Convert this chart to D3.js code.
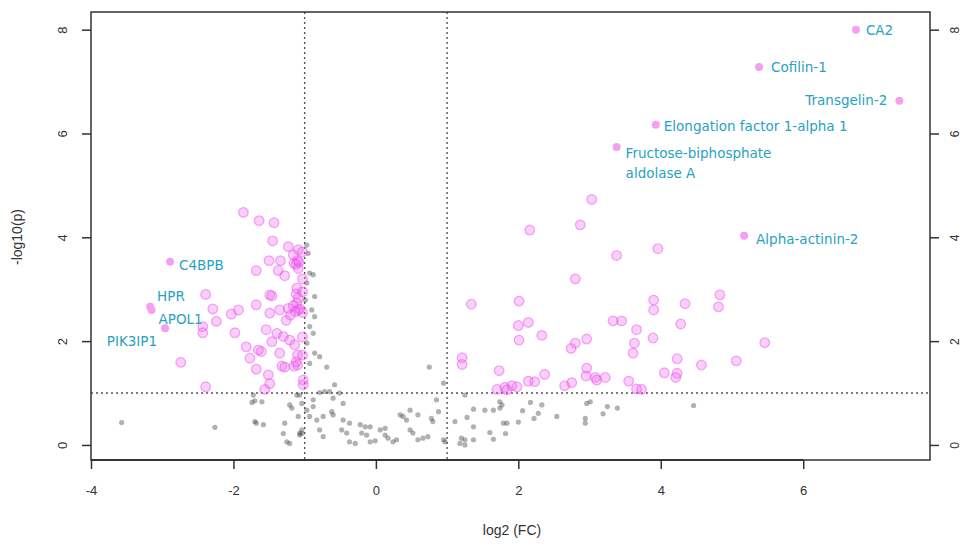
<!DOCTYPE html>
<html><head><meta charset="utf-8">
<script src="https://cdn.jsdelivr.net/npm/d3@7"></script>
<style>
body{margin:0;background:#fff;}
svg text{font-family:"Liberation Sans",Arial,sans-serif;}
svg text.lbl{font-family:"DejaVu Sans",Verdana,sans-serif;}
</style></head>
<body><svg id="c" width="964" height="546"></svg>
<script>
// ---- data ----
const xTicks = [-4, -2, 0, 2, 4, 6];
const yTicks = [0, 2, 4, 6, 8];
const fcCut = [-1, 1];
const pCut = 1;

const labelNames = ["CA2", "Cofilin-1", "Transgelin-2", "Elongation factor 1-alpha 1",
  "Fructose-biphosphate|aldolase A", "Alpha-actinin-2", "C4BPB", "HPR", "APOL1", "PIK3IP1"];
const labelX = [6.74, 5.38, 7.35, 3.93, 3.38, 5.17, -2.89, -3.17, -3.15, -2.96];
const labelY = [8.00, 7.28, 6.63, 6.17, 5.74, 4.03, 3.53, 2.66, 2.60, 2.25];

const upPoints = [[3.03,4.73],[2.16,4.14],[2.87,4.24],[3.96,3.78],[3.38,3.65],[2.80,3.20],[1.34,2.71],[2.01,2.77],
 [3.90,2.79],[3.90,2.60],[4.34,2.72],[4.81,2.66],[4.83,2.89],[2.00,2.30],[2.14,2.36],[2.01,2.02],[2.33,2.11],
 [3.33,2.39],[3.45,2.39],[3.66,2.22],[4.28,2.33],[2.96,2.04],[2.74,1.86],[2.80,1.96],[3.63,1.96],[3.61,1.77],
 [3.89,2.06],[1.21,1.68],[1.21,1.55],[4.23,1.66],[4.57,1.54],[1.73,1.43],[2.37,1.36],[2.96,1.48],[2.95,1.33],
 [3.08,1.30],[3.10,1.25],[3.22,1.30],[4.05,1.39],[4.23,1.38],[4.21,1.30],[2.14,1.23],[2.23,1.22],[2.65,1.14],
 [2.75,1.20],[3.55,1.23],[3.66,1.08],[3.73,1.07],[1.70,1.07],[1.81,1.11],[1.91,1.14],[1.98,1.12],[1.84,1.06],
 [5.46,1.97],[5.06,1.62]];

const downPoints = [[-1.86,4.48],[-1.64,4.32],[-1.43,4.28],[-1.45,3.93],[-1.23,3.82],[-1.09,3.76],[-1.16,3.66],
 [-1.50,3.55],[-1.34,3.55],[-1.15,3.50],[-1.09,3.40],[-1.68,3.36],[-1.37,3.36],[-1.28,3.26],[-1.11,3.02],
 [-2.39,2.90],[-1.49,2.89],[-1.46,2.87],[-2.29,2.62],[-2.03,2.52],[-1.93,2.60],[-1.68,2.70],[-1.49,2.54],
 [-1.35,2.60],[-1.23,2.63],[-1.16,2.68],[-1.09,2.60],[-1.11,2.73],[-2.24,2.38],[-2.43,2.28],[-2.43,2.16],
 [-1.98,2.16],[-1.54,2.22],[-1.39,2.15],[-1.30,2.09],[-1.21,2.02],[-1.46,1.99],[-1.82,1.89],[-1.61,1.80],
 [-1.65,1.83],[-1.35,1.77],[-1.14,1.93],[-1.77,1.67],[-1.32,1.52],[-1.28,1.50],[-1.10,1.73],[-1.68,1.46],
 [-1.51,1.35],[-1.49,1.18],[-1.56,1.07],[-2.39,1.12],[-1.10,1.54],[-1.12,2.91],[-1.09,2.83],[-2.74,1.59],
 [-1.02,1.25],[-1.02,1.16],[-1.03,3.72],[-1.03,3.20],[-1.03,2.95],[-1.03,2.55],[-1.03,2.08],[-1.03,1.73],
 [-1.10,3.55],[-1.20,2.50],[-1.26,2.40],[-1.08,3.52],[-1.12,3.48],[-1.07,2.62],[-1.13,2.57],[-1.12,1.60],
 [-1.15,1.52]];

const nsPoints = [[-0.97,3.85],[-0.95,3.69],[-0.93,3.31],[-0.88,3.28],[-0.97,3.12],[-0.86,2.86],[-0.99,2.79],
 [-0.90,2.60],[-0.86,2.47],[-0.93,2.28],[-0.88,2.15],[-0.97,1.96],[-0.86,1.77],[-0.79,1.70],[-0.93,1.57],
 [-0.69,1.50],[0.75,1.50],[-0.58,1.16],[-0.79,1.01],[-0.72,1.03],[-0.65,1.03],[-0.51,1.00],[-0.88,0.87],
 [-0.60,0.90],[-0.46,0.80],[-0.62,0.64],[-0.60,0.58],[-0.83,0.48],[-0.74,0.55],[-0.46,0.48],[-0.37,0.42],
 [-0.22,0.39],[-0.15,0.35],[-0.08,0.35],[-0.48,0.29],[-0.41,0.23],[-0.20,0.23],[-0.13,0.19],[-0.37,0.06],
 [-0.29,0.03],[-0.08,0.06],[-0.01,0.08],[0.13,0.19],[0.17,0.13],[0.24,0.06],[0.29,0.10],[0.34,0.58],
 [0.38,0.55],[0.43,0.48],[0.48,0.67],[0.59,0.58],[0.59,0.10],[0.66,0.13],[0.73,0.16],[0.78,0.51],[0.80,0.45],
 [0.85,0.87],[0.88,0.64],[0.95,0.10],[0.97,0.06],[0.95,1.19],[-0.79,0.29],[-0.74,0.16],[0.06,0.29],[0.13,0.32],
 [0.48,0.29],[0.52,0.23],
 [1.25,0.96],[1.74,0.83],[1.77,0.77],[1.74,0.71],[2.17,0.82],[2.33,0.77],[2.06,0.66],[2.28,0.61],[2.54,0.55],
 [2.96,0.80],[3.01,0.83],[3.25,0.74],[3.39,0.71],[3.19,0.60],[2.94,0.51],[2.94,0.42],[4.46,0.76],[1.37,0.69],
 [1.53,0.67],[1.65,0.67],[1.28,0.53],[1.11,0.45],[1.79,0.42],[1.84,0.42],[2.22,0.51],[2.00,0.44],[1.37,0.35],
 [1.60,0.24],[1.82,0.22],[1.65,0.11],[1.20,0.13],[1.25,0.10],[1.37,0.10],[1.18,0.03],[1.25,0.00],
 [-3.57,0.43],[-2.26,0.34],[-1.74,0.82],[-1.70,0.85],[-1.60,0.83],[-1.70,0.45],[-1.68,0.42],[-1.58,0.39],
 [-1.28,0.42],[-1.30,0.22],[-1.25,0.06],[-1.21,0.03],[-1.21,0.77],[-1.18,0.71],[-1.09,0.55],[-1.07,0.96],
 [-1.11,0.96],[-1.07,0.19],[-1.04,0.22],[-1.72,0.96],
 [-1.04,0.80],[-0.97,0.67],[-0.93,0.55],[-1.04,0.29],[-1.07,0.23],[-0.88,0.74]];

// ---- drawing ----
const svg = d3.select("#c");
const L = 91, R = 930, T = 12, B = 460;
const x = d3.scaleLinear().domain([-4, 7.78]).range([L, R]);
const y = d3.scaleLinear().domain([-0.29, 8.34]).range([B, T]);
const axisCol = "#333";

// threshold lines
const dots = svg.append("g").attr("stroke", "#555").attr("stroke-width", 1.4).attr("stroke-dasharray", "2,3");
fcCut.forEach(v => dots.append("line").attr("x1", x(v)).attr("x2", x(v)).attr("y1", T).attr("y2", B));
dots.append("line").attr("x1", L).attr("x2", R).attr("y1", y(pCut)).attr("y2", y(pCut));

// non-significant points
svg.append("g").selectAll("circle").data(nsPoints).join("circle")
  .attr("cx", d => x(d[0])).attr("cy", d => y(d[1])).attr("r", 2.6)
  .attr("fill", "rgba(60,60,60,0.4)");

// significant points
svg.append("g").selectAll("circle").data(downPoints.concat(upPoints)).join("circle")
  .attr("cx", d => x(d[0])).attr("cy", d => y(d[1])).attr("r", 4.8)
  .attr("fill", "rgba(240,100,240,0.3)")
  .attr("stroke", "rgba(235,70,235,0.45)").attr("stroke-width", 1.3);

// labelled points
const lab = labelNames.map((n, i) => ({name: n, x: labelX[i], y: labelY[i]}));
svg.append("g").selectAll("circle").data(lab).join("circle")
  .attr("cx", d => x(d.x)).attr("cy", d => y(d.y)).attr("r", 4)
  .attr("fill", "#f4a0f0");

// label placement (pixel offsets from each point)
const labelLayout = {
  "CA2": [10, 0, "start"], "Cofilin-1": [12, 0, "start"], "Transgelin-2": [-12, -1, "end"],
  "Elongation factor 1-alpha 1": [8, 1, "start"], "Fructose-biphosphate|aldolase A": [9, 6, "start"],
  "Alpha-actinin-2": [12, 3, "start"], "C4BPB": [9, 3, "start"], "HPR": [7, -11, "start"],
  "APOL1": [7, 9, "start"], "PIK3IP1": [-8, 13, "end"]
};
const lt = svg.append("g");
lab.forEach(d => {
  const [dx, dy, anc] = labelLayout[d.name];
  const t = lt.append("text").attr("class", "lbl").attr("fill", "#27a2c2").attr("font-size", 13.5)
    .attr("x", x(d.x) + dx).attr("y", y(d.y) + dy)
    .attr("text-anchor", anc).attr("dominant-baseline", "central");
  d.name.split("|").forEach((s, k) => t.append("tspan").attr("x", x(d.x) + dx).attr("dy", k ? 20 : 0).text(s));
});

// box
svg.append("rect").attr("x", L).attr("y", T).attr("width", R - L).attr("height", B - T)
  .attr("fill", "none").attr("stroke", axisCol).attr("stroke-width", 1.5);

const fmt = d => String(d);
// x axis
const gx = svg.append("g").attr("transform", `translate(0,${B})`)
  .call(d3.axisBottom(x).tickValues(xTicks).tickSize(9).tickFormat(fmt));
gx.select(".domain").attr("d", `M${x(-4)},0H${x(6)}`).attr("stroke", axisCol).attr("stroke-width", 2);
gx.selectAll(".tick line").attr("stroke", axisCol).attr("stroke-width", 1.5);
gx.selectAll(".tick text").attr("font-size", 13).attr("fill", "#333").attr("dy", "1.75em");

// left y axis
const gy = svg.append("g").attr("transform", `translate(${L},0)`)
  .call(d3.axisLeft(y).tickValues(yTicks).tickSize(9).tickFormat(fmt));
gy.select(".domain").remove();
gy.selectAll(".tick line").attr("stroke", axisCol).attr("stroke-width", 1.5);
gy.selectAll(".tick text").attr("font-size", 13).attr("fill", "#333")
  .attr("x", 0).attr("dy", 0).attr("text-anchor", "middle").attr("dominant-baseline", "central")
  .attr("transform", "translate(-29,0) rotate(-90)");

// right y axis
const gr = svg.append("g").attr("transform", `translate(${R},0)`)
  .call(d3.axisRight(y).tickValues(yTicks).tickSize(9).tickFormat(fmt));
gr.select(".domain").remove();
gr.selectAll(".tick line").attr("stroke", axisCol).attr("stroke-width", 1.5);
gr.selectAll(".tick text").attr("font-size", 12).attr("fill", "#333")
  .attr("x", 0).attr("dy", 0).attr("text-anchor", "middle").attr("dominant-baseline", "central")
  .attr("transform", "translate(25,0) rotate(-90)");

// axis titles
svg.append("text").attr("x", 512).attr("y", 535).attr("text-anchor", "middle")
  .attr("font-size", 14).attr("fill", "#333").text("log2 (FC)");
svg.append("text").attr("transform", "translate(22,237) rotate(-90)").attr("text-anchor", "middle")
  .attr("font-size", 14).attr("fill", "#333").text("-log10(p)");
</script></body></html>
